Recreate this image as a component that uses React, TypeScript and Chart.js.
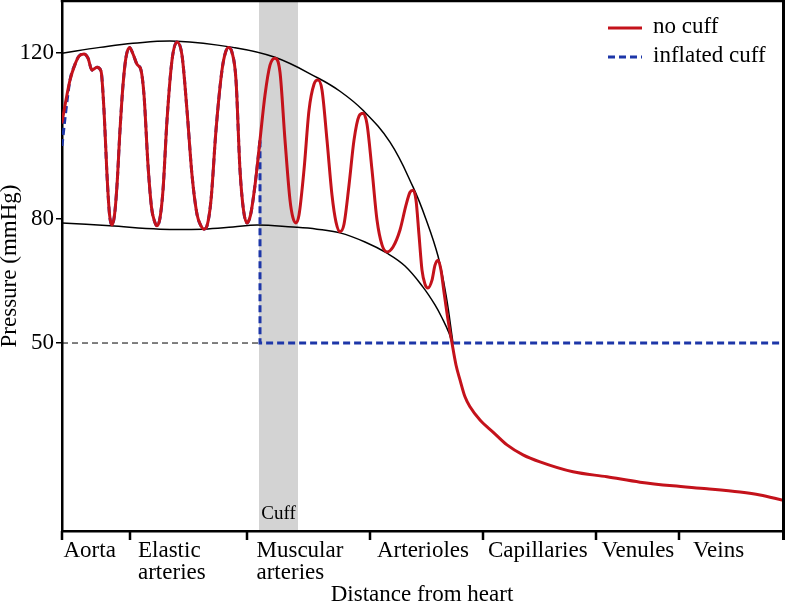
import { useEffect, useRef } from "react";
import { Chart, registerables } from "chart.js";

Chart.register(...registerables);

const FONT = "'Liberation Serif', 'Times New Roman', Times, serif";
const RED = "#c4121b";
const BLUE = "#1d36a8";

// ---- categories (vessel segments along the x axis) ----
const segmentNames: string[][] = [
  ["Aorta"],
  ["Elastic", "arteries"],
  ["Muscular", "arteries"],
  ["Arterioles"],
  ["Capillaries"],
  ["Venules"],
  ["Veins"],
];
const segmentBounds = [0, 68, 185, 308, 421, 534, 617, 720];
const labelPads = [1.5, 8, 9.5, 7, 5, 5.5, 14];

// ---- y ticks ----
const yTickValues = [50, 80, 120];

// ---- cuff band ----
const cuffRange = [197, 236];
const cuffLabel = "Cuff";

// ---- series ----
const seriesLabels = ["no cuff", "inflated cuff"];

const noCuffX = [
  0, 4, 8, 13, 17, 22, 26, 30, 35, 39,
  42, 45, 47.5, 50, 52.5, 55, 58, 61, 64, 67.5,
  71, 75, 79, 82, 86, 89.5, 92.5, 95, 98, 101,
  105, 110, 115, 120, 125, 130, 135, 139, 142, 145,
  149, 154, 160, 163.5, 166.5, 170, 174, 178, 181.5, 185,
  188.5, 193, 198, 203, 208, 213, 218, 223, 228, 231,
  234, 237, 242, 247, 252, 256, 260, 265, 270, 274,
  278, 282, 287, 292, 297, 301, 305, 310, 315, 320,
  325, 331, 338, 344, 348, 351, 354, 357, 360, 363,
  366, 370, 373, 376, 379, 382, 386, 390, 394, 398,
  403, 408, 418, 431, 445, 461, 478, 511, 545, 578,
  611, 645, 678, 698, 720,
];
const noCuffY = [
  103.3, 108.7, 113.5, 117.3, 119.3, 119.8, 118.8, 115.9, 116.6, 115.7,
  106.2, 90.6, 81.1, 78.5, 80.9, 88.1, 101.4, 112.3, 119.0, 121.4,
  119.8, 117.3, 115.9, 109.9, 93.0, 82.8, 79.4, 78.3, 80.2, 86.9,
  103.8, 118.3, 122.7, 119.5, 106.2, 90.6, 81.1, 78.3, 77.5, 78.3,
  84.5, 101.4, 115.9, 120.2, 121.4, 120.2, 113.5, 91.8, 82.1, 79.0,
  80.9, 88.1, 99.0, 109.9, 117.1, 118.8, 115.4, 99.0, 84.5, 80.2,
  79.0, 80.9, 91.8, 106.2, 112.5, 113.5, 111.1, 99.0, 85.7, 79.2,
  76.9, 78.7, 88.1, 99.0, 104.8, 105.5, 102.9, 91.8, 79.7, 73.7,
  72.0, 73.2, 77.3, 83.3, 86.4, 86.9, 84.5, 76.1, 67.6, 64.2,
  63.3, 65.2, 68.8, 70.0, 67.6, 62.3, 55.6, 50.0, 44.7, 41.1,
  37.0, 34.6, 31.4, 28.5, 25.4, 23.0, 21.3, 18.9, 17.7, 16.4,
  15.5, 14.8, 14.0, 13.3, 12.1,
];

// inflated cuff: own start, then follows the pulse wave up to the cuff, then drops
const inflatedStartX = [0, 3];
const inflatedStartY = [97.6, 104.3];
const inflatedJoinRange = [8, 198];
const inflatedDropX = [198, 198, 720];
const inflatedDropY = [99.0, 50, 50];

const refLineX = [0, 198];
const refLineY = [50, 50];

// systolic / diastolic envelopes
const upperX = [0, 38, 71, 115, 171, 213, 256, 278, 301, 328, 351, 364, 376, 384, 391];
const upperY = [120.0, 121.4, 122.4, 122.9, 121.4, 119.0, 114.0, 110.8, 106.2, 98.5, 87.7, 79.9, 71.0, 61.6, 50.0];

const lowerX = [0, 48, 98, 141, 171, 195, 231, 255, 278, 303, 325, 343, 361, 373, 381, 387, 390];
const lowerY = [79.0, 78.3, 77.5, 77.5, 78.0, 78.5, 78.0, 77.5, 76.6, 74.4, 71.7, 68.6, 63.5, 59.2, 55.6, 52.4, 50.0];

const toPts = (xs: number[], ys: number[]) => xs.map((x, i) => ({ x, y: ys[i] }));

const decorPlugin = {
  id: "decor",
  beforeDraw(chart: any) {
    const { ctx, chartArea: a, scales } = chart;
    const xs = scales.x;
    const x0 = xs.getPixelForValue(cuffRange[0]);
    const x1 = xs.getPixelForValue(cuffRange[1]);
    ctx.save();
    ctx.fillStyle = "#d3d3d3";
    ctx.fillRect(x0, a.top, x1 - x0, a.bottom - a.top);
    ctx.fillStyle = "#000";
    ctx.font = `19px ${FONT}`;
    ctx.textAlign = "center";
    ctx.textBaseline = "middle";
    ctx.fillText(cuffLabel, (x0 + x1) / 2, a.bottom - 17);
    ctx.restore();
  },
  afterDraw(chart: any) {
    const { ctx, chartArea: a, scales } = chart;
    const xs = scales.x;
    ctx.save();
    ctx.strokeStyle = "#000";
    ctx.lineWidth = 2.5;
    ctx.beginPath();
    ctx.moveTo(a.left - 1.25, a.top);
    ctx.lineTo(a.right + 3, a.top);
    ctx.stroke();
    ctx.lineWidth = 3;
    ctx.beginPath();
    ctx.moveTo(a.right + 1.5, a.top - 1);
    ctx.lineTo(a.right + 1.5, a.bottom + 9);
    ctx.stroke();
    ctx.lineWidth = 2.5;
    ctx.beginPath();
    segmentBounds.slice(0, -1).forEach((v) => {
      const px = xs.getPixelForValue(v);
      ctx.moveTo(px, a.bottom);
      ctx.lineTo(px, a.bottom + 9);
    });
    ctx.stroke();

    // legend
    const items = chart.data.datasets.filter((d: any) => d.label);
    items.forEach((d: any, i: number) => {
      const y = a.top + 26 + i * 29;
      ctx.strokeStyle = d.borderColor;
      ctx.lineWidth = d.borderWidth;
      ctx.setLineDash(d.borderDash || []);
      ctx.beginPath();
      ctx.moveTo(a.right - 174, y + 1);
      ctx.lineTo(a.right - 140, y + 1);
      ctx.stroke();
      ctx.setLineDash([]);
      ctx.fillStyle = "#000";
      ctx.font = `23px ${FONT}`;
      ctx.textAlign = "left";
      ctx.textBaseline = "middle";
      ctx.fillText(d.label, a.right - 129, y);
    });
    ctx.restore();
  },
};

export default function App() {
  const ref = useRef<HTMLCanvasElement>(null);

  useEffect(() => {
    document.body.style.margin = "0";
    const canvas = ref.current;
    if (!canvas) return;

    const joinIdx = noCuffX
      .map((x, i) => i)
      .filter((i) => noCuffX[i] >= inflatedJoinRange[0] && noCuffX[i] <= inflatedJoinRange[1]);
    const blueCurveX = [...inflatedStartX, ...joinIdx.map((i) => noCuffX[i])];
    const blueCurveY = [...inflatedStartY, ...joinIdx.map((i) => noCuffY[i])];

    const chart = new Chart(canvas, {
      type: "line",
      data: {
        datasets: [
          {
            label: seriesLabels[0],
            data: toPts(noCuffX, noCuffY),
            borderColor: RED,
            borderWidth: 3,
            borderDash: [],
            pointRadius: 0,
            cubicInterpolationMode: "monotone",
            borderCapStyle: "round",
            borderJoinStyle: "round",
          },
          {
            label: seriesLabels[1],
            data: toPts(blueCurveX, blueCurveY),
            borderColor: BLUE,
            borderWidth: 3,
            borderDash: [7, 4],
            pointRadius: 0,
            cubicInterpolationMode: "monotone",
          },
          {
            data: toPts(inflatedDropX, inflatedDropY),
            borderColor: BLUE,
            borderWidth: 3,
            borderDash: [7, 4],
            pointRadius: 0,
            tension: 0,
          },
          {
            data: toPts(refLineX, refLineY),
            borderColor: "#000",
            borderWidth: 1,
            borderDash: [6, 4],
            pointRadius: 0,
            tension: 0,
          },
          {
            data: toPts(upperX, upperY),
            borderColor: "#000",
            borderWidth: 1.5,
            pointRadius: 0,
            tension: 0.4,
          },
          {
            data: toPts(lowerX, lowerY),
            borderColor: "#000",
            borderWidth: 1.5,
            pointRadius: 0,
            tension: 0.4,
          },
        ] as any,
      },
      options: {
        animation: false,
        responsive: false,
        maintainAspectRatio: false,
        devicePixelRatio: 1,
        layout: { padding: { top: 1, right: 4, bottom: 0, left: 0 } },
        plugins: {
          legend: { display: false },
          tooltip: { enabled: false },
        },
        scales: {
          x: {
            type: "linear",
            min: 0,
            max: 720,
            grid: { display: false, drawOnChartArea: false, drawTicks: false },
            border: { display: true, color: "#000", width: 2.5 },
            afterBuildTicks: (scale: any) => {
              scale.ticks = segmentNames.map((_, i) => ({ value: segmentBounds[i] + labelPads[i] }));
            },
            afterFit: (scale: any) => {
              scale.height = 74;
              scale.paddingLeft = 0;
              scale.paddingRight = 0;
            },
            ticks: {
              autoSkip: false,
              maxRotation: 0,
              minRotation: 0,
              align: "start",
              padding: 9.5,
              color: "#000",
              font: { family: FONT, size: 23, lineHeight: 0.95 },
              callback: (_v: any, i: number) => segmentNames[i],
            },
            title: {
              display: true,
              text: "Distance from heart",
              color: "#000",
              font: { family: FONT, size: 23, lineHeight: 0.86 },
              padding: 0,
            },
          },
          y: {
            type: "linear",
            min: 4.6,
            max: 132.6,
            grid: { drawOnChartArea: false, drawTicks: true, tickLength: 6, color: "#000", lineWidth: 1.5 },
            border: { display: true, color: "#000", width: 2.5 },
            afterBuildTicks: (scale: any) => {
              scale.ticks = yTickValues.map((v) => ({ value: v }));
            },
            afterFit: (scale: any) => {
              scale.width = 62;
              scale.paddingTop = 0;
              scale.paddingBottom = 0;
            },
            ticks: {
              padding: 2,
              color: "#000",
              font: { family: FONT, size: 23 },
              callback: (v: any) => String(v),
            },
            title: {
              display: true,
              text: "Pressure (mmHg)",
              color: "#000",
              font: { family: FONT, size: 23, lineHeight: 0.86 },
              padding: 0,
            },
          },
        },
      } as any,
      plugins: [decorPlugin],
    });

    return () => chart.destroy();
  }, []);

  return (
    <div style={{ width: 786, height: 605 }}>
      <canvas ref={ref} width={786} height={605} />
    </div>
  );
}
